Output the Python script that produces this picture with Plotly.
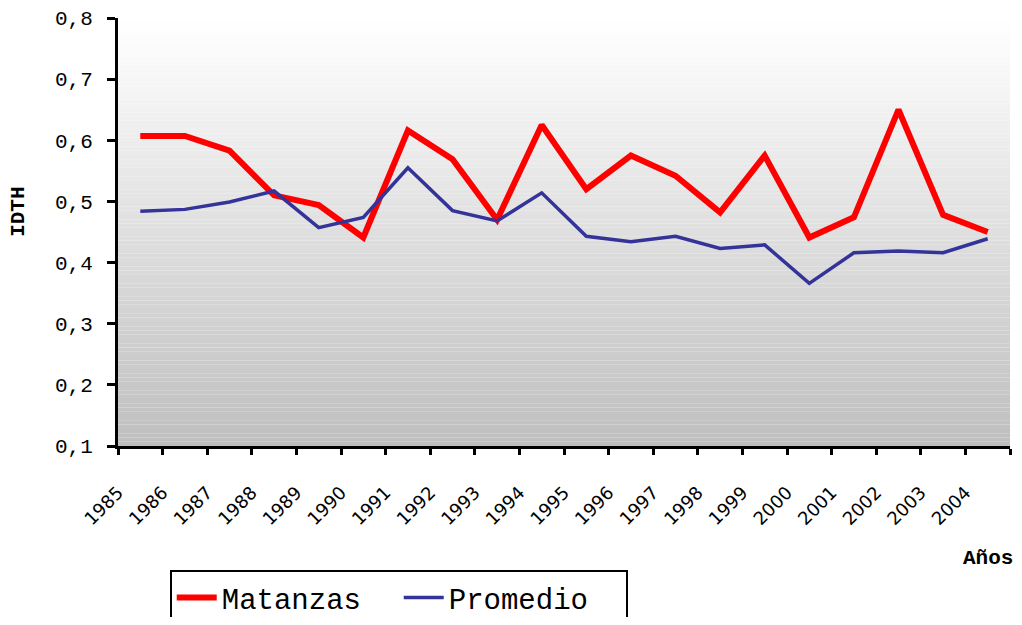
import plotly.graph_objects as go

years = [str(y) for y in range(1985, 2005)]
matanzas = [0.607, 0.607, 0.583, 0.510, 0.494, 0.441, 0.616, 0.569, 0.470, 0.625,
            0.520, 0.575, 0.542, 0.482, 0.575, 0.441, 0.474, 0.650, 0.478, 0.450]
promedio = [0.484, 0.487, 0.499, 0.517, 0.457, 0.474, 0.555, 0.485, 0.468, 0.514,
            0.443, 0.434, 0.443, 0.423, 0.429, 0.366, 0.416, 0.419, 0.416, 0.439]
yticks = [0.1, 0.2, 0.3, 0.4, 0.5, 0.6, 0.7, 0.8]

xs = list(range(len(years)))

fig = go.Figure()
fig.add_trace(go.Scatter(x=xs, y=matanzas, mode="lines", name="Matanzas",
                         line=dict(color="#ff0000", width=6)))
fig.add_trace(go.Scatter(x=xs, y=promedio, mode="lines", name="Promedio",
                         line=dict(color="#333399", width=3.5)))

# gradient background
shapes = []
n = 100
for i in range(n):
    t = i / (n - 1)
    c = int(round(255 - (255 - 191) * t))
    shapes.append(dict(type="rect", xref="paper", yref="paper",
                       x0=0, x1=1, y0=1 - (i + 1) / n, y1=1 - i / n,
                       fillcolor=f"rgb({c},{c},{c})", line=dict(width=0),
                       layer="below"))

mono = "Courier New, Liberation Mono, monospace"
tickvals = [i - 0.5 for i in range(len(years) + 1)]
ticktext = years + [""]

# page body has an 8px margin: compensate in figure size and margins
fig.update_layout(
    width=1006, height=609,
    margin=dict(l=110, r=4, t=10, b=171, autoexpand=False),
    paper_bgcolor="white", plot_bgcolor="rgba(0,0,0,0)",
    shapes=shapes,
    showlegend=True,
    legend=dict(orientation="h", x=0.058, y=-0.29, xanchor="left", yanchor="top",
                bordercolor="black", borderwidth=2, bgcolor="white",
                font=dict(family=mono, size=29, color="black"),
                itemwidth=40, entrywidth=172, entrywidthmode="pixels"),
    xaxis=dict(range=[-0.5, len(years) - 0.5], tickmode="array",
               tickvals=tickvals, ticktext=ticktext, tickangle=-45,
               showgrid=False, zeroline=False, showline=True,
               linecolor="black", linewidth=3, ticks="outside",
               ticklen=6, tickwidth=3, tickcolor="black", automargin=False,
               tickfont=dict(family="Verdana, DejaVu Sans", size=18, color="black"),
               ticklabelstandoff=20, ticklabeloverflow="allow"),
    yaxis=dict(range=[0.1, 0.8], tickvals=yticks, tickformat=".1f",
               showgrid=False, zeroline=False, showline=True,
               linecolor="black", linewidth=3, ticks="outside",
               ticklen=8, tickwidth=3, tickcolor="black", automargin=False,
               tickfont=dict(family=mono, size=21, color="black"),
               ticklabelstandoff=10, ticklabeloverflow="allow"),
    separators=", ",
    annotations=[
        dict(text="<b>IDTH</b>", xref="paper", yref="paper", x=-0.111, y=0.547,
             xanchor="center", yanchor="middle",
             textangle=-90, showarrow=False,
             font=dict(family=mono, size=21, color="black")),
        dict(text="<b>Años</b>", xref="paper", yref="paper", x=1.0056, y=-0.262,
             xanchor="right", yanchor="middle", showarrow=False,
             font=dict(family=mono, size=21, color="black")),
    ],
)

fig.write_html("out.html")
